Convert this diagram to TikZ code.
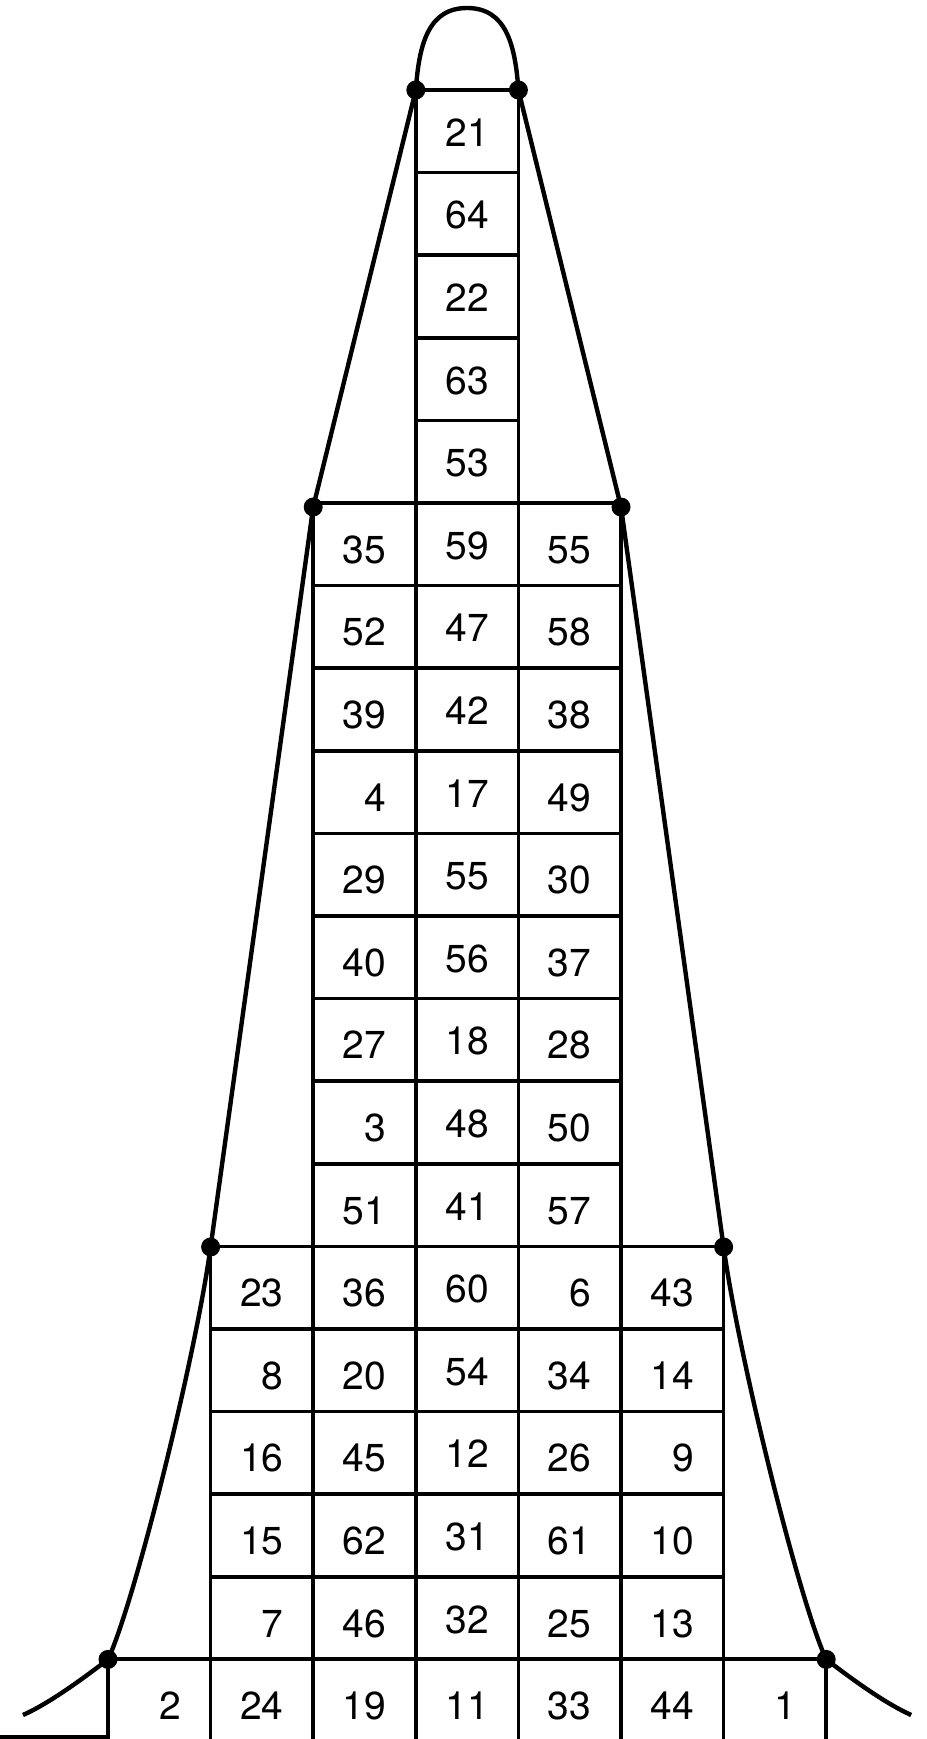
\documentclass[tikz,border=0pt]{standalone}
\usepackage{fontspec}
\setmainfont{TeX Gyre Heros}
\usetikzlibrary{calc}

% number in a cell, right aligned to a two digit field
\newcommand{\nb}[1]{\makebox[1.11em][r]{#1}}

\begin{document}
\begin{tikzpicture}[x=0.5pt, y=-0.5pt,
    cell/.style={draw, line width=1.8pt, minimum width=51.3pt, minimum height=41.3pt,
                 inner sep=0pt, font=\fontsize{19.5}{22}\selectfont,
                 text height=0.7em+8pt, text depth=0pt},
    side/.style={cell, text height=0.7em+12pt},
    curve/.style={line width=2.2pt, line join=round},
    dot/.style={circle, fill, inner sep=0pt, minimum size=9.5pt},
]
    \useasboundingbox (0,0) rectangle (926,1739);

    % top stack
    \foreach \r/\n in {0/21, 1/64, 2/22, 3/63, 4/53}
        \node[cell] (d\r) at (467.1, {90+82.6*(\r+.5)}) {\nb{\n}};

    % three columns
    \foreach \r/\p/\q/\s in {5/35/59/55, 6/52/47/58, 7/39/42/38, 8/4/17/49, 9/29/55/30,
                              10/40/56/37, 11/27/18/28, 12/3/48/50, 13/51/41/57} {
        \node[side] (c\r) at (364.5, {90+82.6*(\r+.5)}) {\nb{\p}};
        \node[cell] (d\r) at (467.1, {90+82.6*(\r+.5)}) {\nb{\q}};
        \node[side] (e\r) at (569.7, {90+82.6*(\r+.5)}) {\nb{\s}};
    }

    % five columns
    \foreach \r/\o/\p/\q/\s/\t in {14/23/36/60/6/43, 15/8/20/54/34/14, 16/16/45/12/26/9,
                                   17/15/62/31/61/10, 18/7/46/32/25/13} {
        \node[side] (b\r) at (261.9, {90+82.6*(\r+.5)}) {\nb{\o}};
        \node[side] (c\r) at (364.5, {90+82.6*(\r+.5)}) {\nb{\p}};
        \node[cell] (d\r) at (467.1, {90+82.6*(\r+.5)}) {\nb{\q}};
        \node[side] (e\r) at (569.7, {90+82.6*(\r+.5)}) {\nb{\s}};
        \node[side] (f\r) at (672.3, {90+82.6*(\r+.5)}) {\nb{\t}};
    }

    % bottom row
    \foreach \col/\x/\n in {a/159.3/2, b/261.9/24, c/364.5/19, d/467.1/11,
                            e/569.7/33, f/672.3/44, g/774.9/1}
        \node[side] (\col19) at (\x, 1700.3) {\nb{\n}};

    % joints of the curve
    \node[dot] (l1) at (415.8, 90) {};
    \node[dot] (r1) at (518.4, 90) {};
    \node[dot] (l2) at (313.2, 507) {};
    \node[dot] (r2) at (621, 507) {};
    \node[dot] (l3) at (210.6, 1247) {};
    \node[dot] (r3) at (723.6, 1247) {};
    \node[dot] (l4) at (108, 1659.4) {};
    \node[dot] (r4) at (826.2, 1659.4) {};
    \coordinate (tl) at (23, 1715);
    \coordinate (tr) at (911.2, 1715);

    % bell curve
    \draw[curve] (tl) .. controls (50,1703) and (85,1677) .. (l4.center)
        .. controls (134,1604) and (195,1360) .. (l3.center)
        -- (l2.center) -- (l1.center)
        .. controls (419,45) and (428,8) .. (467.1,8)
        .. controls (506.2,8) and (515.2,45) .. (r1.center)
        -- (r2.center) -- (r3.center)
        .. controls (739.2,1360) and (800.2,1604) .. (r4.center)
        .. controls (849.2,1677) and (884.2,1703) .. (tr);

    % base line
    \draw[line width=1.8pt] (0,1737) -- (l4.center |- 0,1737);
\end{tikzpicture}
\end{document}
